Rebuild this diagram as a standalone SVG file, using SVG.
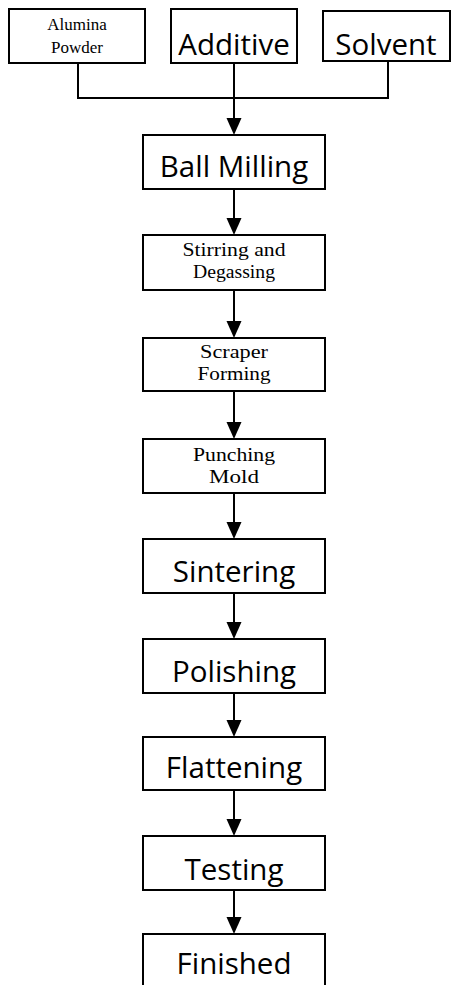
<svg xmlns="http://www.w3.org/2000/svg" width="451" height="985" viewBox="0 0 451 985">
<style>
.box{fill:#fff;stroke:#000;stroke-width:2}
.sans{font-family:"Open Sans","Noto Sans",sans-serif;font-size:29.5px;fill:#000;text-anchor:middle}
.serif{font-family:"Liberation Serif","Times New Roman",serif;font-size:19px;fill:#000;text-anchor:middle}
.small{font-size:17px}
.con{fill:none;stroke:#000;stroke-width:2}
.head{fill:#000}
</style>
<rect width="451" height="985" fill="#fff"/>
<g id="connectors">
<polyline class="con" points="78,63 78,98 388,98 388,61"/>
<line class="con" x1="234" y1="63" x2="234" y2="118"/>
<path class="head" d="M226.5,118 L241.5,118 L234,135 Z"/>
<line class="con" x1="234" y1="189" x2="234" y2="218"/>
<path class="head" d="M226.5,218 L241.5,218 L234,235 Z"/>
<line class="con" x1="234" y1="290" x2="234" y2="321"/>
<path class="head" d="M226.5,321 L241.5,321 L234,338 Z"/>
<line class="con" x1="234" y1="391" x2="234" y2="422"/>
<path class="head" d="M226.5,422 L241.5,422 L234,439 Z"/>
<line class="con" x1="234" y1="493" x2="234" y2="522"/>
<path class="head" d="M226.5,522 L241.5,522 L234,539 Z"/>
<line class="con" x1="234" y1="593" x2="234" y2="622"/>
<path class="head" d="M226.5,622 L241.5,622 L234,639 Z"/>
<line class="con" x1="234" y1="693" x2="234" y2="720"/>
<path class="head" d="M226.5,720 L241.5,720 L234,737 Z"/>
<line class="con" x1="234" y1="790" x2="234" y2="819"/>
<path class="head" d="M226.5,819 L241.5,819 L234,836 Z"/>
<line class="con" x1="234" y1="890" x2="234" y2="917"/>
<path class="head" d="M226.5,917 L241.5,917 L234,934 Z"/>
</g>
<g id="alumina"><rect class="box" x="9" y="9" width="136" height="54"/>
<text class="serif small" x="77" y="30">Alumina</text><text class="serif small" x="77" y="53">Powder</text></g>
<g id="additive"><rect class="box" x="171" y="9" width="126" height="54"/>
<text class="sans" x="234" y="55">Additive</text></g>
<g id="solvent"><rect class="box" x="323" y="11" width="127" height="50"/>
<text class="sans" x="386" y="55">Solvent</text></g>
<g id="ballmilling"><rect class="box" x="143" y="135" width="182" height="54"/>
<text class="sans" x="234" y="177">Ball Milling</text></g>
<g id="stirring"><rect class="box" x="143" y="235" width="182" height="55"/>
<text class="serif" x="234" y="256" textLength="103" lengthAdjust="spacingAndGlyphs">Stirring and</text><text class="serif" x="234" y="278" textLength="82" lengthAdjust="spacingAndGlyphs">Degassing</text></g>
<g id="scraper"><rect class="box" x="143" y="338" width="182" height="53"/>
<text class="serif" x="234" y="358" textLength="68" lengthAdjust="spacingAndGlyphs">Scraper</text><text class="serif" x="234" y="380" textLength="73" lengthAdjust="spacingAndGlyphs">Forming</text></g>
<g id="punching"><rect class="box" x="143" y="439" width="182" height="54"/>
<text class="serif" x="234" y="461" textLength="82" lengthAdjust="spacingAndGlyphs">Punching</text><text class="serif" x="234" y="483" textLength="50" lengthAdjust="spacingAndGlyphs">Mold</text></g>
<g id="sintering"><rect class="box" x="143" y="539" width="182" height="54"/>
<text class="sans" x="234" y="582">Sintering</text></g>
<g id="polishing"><rect class="box" x="143" y="639" width="182" height="54"/>
<text class="sans" x="234" y="682">Polishing</text></g>
<g id="flattening"><rect class="box" x="143" y="737" width="182" height="53"/>
<text class="sans" x="234" y="778">Flattening</text></g>
<g id="testing"><rect class="box" x="143" y="836" width="182" height="54"/>
<text class="sans" x="234" y="880">Testing</text></g>
<g id="finished"><rect class="box" x="143" y="934" width="182" height="60"/>
<text class="sans" x="234" y="974">Finished</text></g>
</svg>
